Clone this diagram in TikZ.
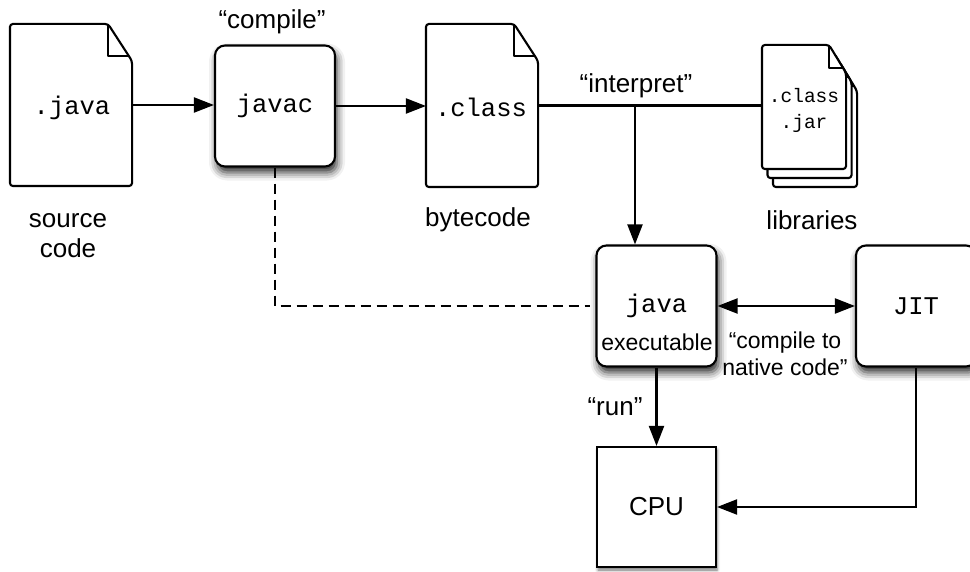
\documentclass[tikz,border=0pt]{standalone}
\usepackage{fontspec}
\setmainfont{Liberation Sans}
\setmonofont{Liberation Mono}
\usetikzlibrary{arrows.meta,shadows.blur}

\newcommand\docoutline[5]{% #1 node, #2 fold w, #3 fold h, #4 dx, #5 dy (y down)
  \filldraw[fill=white, rounded corners=3pt, line join=round]
    ([xshift=#4pt,yshift=-#5pt]#1.south west) -- ([xshift=#4pt,yshift=-#5pt]#1.north west)
    -- ([xshift=#4pt-#2pt,yshift=-#5pt]#1.north east)
    -- ([xshift=#4pt,yshift=-#5pt-#3pt]#1.north east)
    -- ([xshift=#4pt,yshift=-#5pt]#1.south east) -- cycle;
  \draw[line join=round]
    ([xshift=#4pt-#2pt,yshift=-#5pt]#1.north east)
    -- ([xshift=#4pt-#2pt,yshift=-#5pt-#3pt+5pt]#1.north east)
    -- ([xshift=#4pt-3pt,yshift=-#5pt-#3pt+5pt]#1.north east);
}

\begin{document}
\begin{tikzpicture}[x=1pt,y=-1pt,
  line width=2.1pt,
  lbl/.style={font=\fontsize{26}{30}\selectfont, align=center, inner sep=0pt},
  small/.style={font=\fontsize{23}{27}\selectfont, align=center, inner sep=0pt},
  code/.style={font=\ttfamily\fontsize{25.5}{29}\selectfont, inner sep=0pt},
  codesmall/.style={font=\ttfamily\fontsize{19.5}{26}\selectfont, align=center, inner sep=0pt},
  docnode/.style={draw=none, inner sep=0pt},
  rbox/.style={draw, fill=white, rounded corners=10pt, minimum width=120pt, minimum height=121pt,
    inner sep=0pt, font=\ttfamily\fontsize{25.5}{29}\selectfont,
    blur shadow={shadow xshift=2pt, shadow yshift=-6pt, shadow blur radius=8pt, shadow opacity=85}},
  sbox/.style={draw, fill=white, minimum width=119pt, minimum height=120pt, inner sep=0pt,
    font=\fontsize{26}{30}\selectfont,
    blur shadow={shadow xshift=1pt, shadow yshift=-3pt, shadow blur radius=3pt, shadow opacity=55}},
  arr/.style={-{Triangle[length=20pt,width=15pt]}},
  dbl/.style={{Triangle[length=20pt,width=15pt]}-{Triangle[length=20pt,width=15pt]}},
  dashline/.style={dash pattern=on 10pt off 6pt},
]
\useasboundingbox (0,0) rectangle (970,572);
\clip (0,0) rectangle (970,572);

% documents
\node[docnode, minimum width=120pt, minimum height=160pt] (src) at (71,105) {};
\docoutline{src}{24}{37}{0}{0}
\node[code] (tsrc) at (72,108) {.java};

\node[docnode, minimum width=110pt, minimum height=161pt] (cls) at (482,105.5) {};
\docoutline{cls}{24}{37}{0}{0}
\node[code] (tcls) at (481,107) {.class};

\node[docnode, minimum width=82pt, minimum height=122pt] (lib) at (804,107) {};
\docoutline{lib}{17}{28}{11}{18}
\docoutline{lib}{17}{28}{5.5}{9}
\docoutline{lib}{17}{28}{0}{0}
\node[codesmall] (tlib) at (804,110) {.class\\.jar};

% boxes
\node[rbox] (javac) at (275,106) {javac};
\node[rbox] (jvm) at (656.5,306) {java};
\node[rbox] (jit) at (916,306) {JIT};
\node[sbox] (cpu) at (656.5,507) {CPU};

% labels
\node[lbl] (lcompile) at (272,22) {“compile”};
\node[lbl] (linterp) at (636,86) {“interpret”};
\node[lbl] (lsrc) at (68,236) {source\\code};
\node[lbl] (lbyte) at (478,220) {bytecode};
\node[lbl] (llib) at (812,220) {libraries};
\node[small] (lexec) at (657,342) {executable};
\node[small] (lnative) at (785,354) {“compile to\\native code”};
\node[lbl] (lrun) at (615,407) {“run”};

% connectors
\draw[arr] (src.east) -- (src.east -| javac.west);
\draw[arr] (javac.east) -- (javac.east -| cls.west);
\draw (cls.east) -- (cls.east -| lib.west);
\coordinate (jn) at (635,105.5);
\draw[arr] (jn) -- (jn |- jvm.north);
\draw[dashline] (javac.south) |- ([xshift=-5pt]jvm.west);
\draw[dbl] (jvm.east) -- (jit.west);
\draw[arr] (jvm.south) -- (cpu.north);
\draw[arr] (jit.south) |- (cpu.east);
\end{tikzpicture}
\end{document}
